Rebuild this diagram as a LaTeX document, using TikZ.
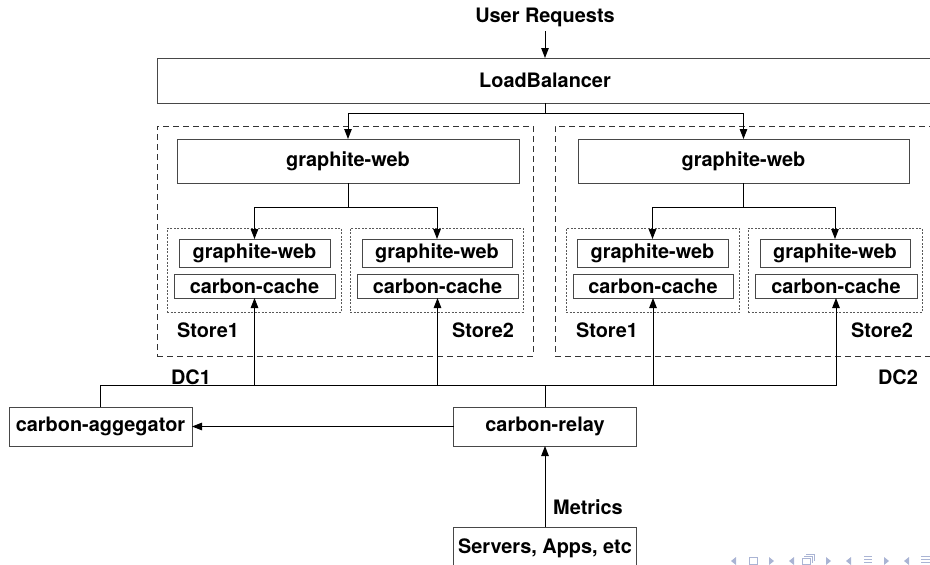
\documentclass[tikz,border=0pt]{standalone}
\usepackage{fontspec}
\setmainfont{TeX Gyre Heros}
\usetikzlibrary{arrows.meta}
\definecolor{navblue}{RGB}{170,180,212}
\begin{document}
\begin{tikzpicture}[x=1pt,y=-1pt,
  every node/.style={font=\fontsize{19.9}{22}\selectfont\bfseries, inner sep=0pt, outer sep=0pt},
  box/.style={draw=black!72, line width=0.9pt},
  dcbox/.style={draw=black!80, line width=0.9pt, dash pattern=on 6pt off 4pt},
  storebox/.style={draw=black!65, line width=0.7pt, dash pattern=on 2pt off 1.5pt},
  conn/.style={line width=1pt, black},
  arr/.style={conn, -{Triangle[length=10pt,width=7.5pt]}},
  lbl/.style={},
  nav/.style={fill=navblue, draw=none}
]
\useasboundingbox (0,0) rectangle (930,565);

% top
\node[lbl] (ureq) at (545,17) {User Requests};
\node[box, minimum width=776, minimum height=45] (lb) at (545,80.5) {LoadBalancer};

% DC1
\node[dcbox, minimum width=376, minimum height=230] (dc1) at (345,241) {};
\node[box, minimum width=342, minimum height=44] (gw1) at (348,161) {graphite-web};
\node[storebox, minimum width=174, minimum height=84] (s11) at (254,270) {};
\node[box, minimum width=151, minimum height=28] (s11gw) at (254.5,253) {graphite-web};
\node[box, minimum width=161, minimum height=24] (s11cc) at (254.5,286) {carbon-cache};
\node[storebox, minimum width=173, minimum height=84] (s12) at (436.5,270) {};
\node[box, minimum width=150, minimum height=28] (s12gw) at (437,253) {graphite-web};
\node[box, minimum width=161, minimum height=24] (s12cc) at (437.5,286) {carbon-cache};
\node[lbl] (st11) at (208,330) {Store1};
\node[lbl] (st12) at (483,330) {Store2};
\node[lbl] (dc1l) at (191,377) {DC1};

% DC2
\node[dcbox, minimum width=380, minimum height=230] (dc2) at (745,241) {};
\node[box, minimum width=331, minimum height=44] (gw2) at (743.5,161) {graphite-web};
\node[storebox, minimum width=173, minimum height=84] (s21) at (652.5,270) {};
\node[box, minimum width=151, minimum height=28] (s21gw) at (652.5,253) {graphite-web};
\node[box, minimum width=160, minimum height=24] (s21cc) at (653,286) {carbon-cache};
\node[storebox, minimum width=174, minimum height=84] (s22) at (835,270) {};
\node[box, minimum width=150, minimum height=28] (s22gw) at (835,253) {graphite-web};
\node[box, minimum width=162, minimum height=24] (s22cc) at (836,286) {carbon-cache};
\node[lbl] (st21) at (607,330) {Store1};
\node[lbl] (st22) at (882,330) {Store2};
\node[lbl] (dc2l) at (898,377) {DC2};

% bottom
\node[box, minimum width=183, minimum height=39] (agg) at (100.5,426.5) {carbon-aggegator};
\node[box, minimum width=183, minimum height=39] (relay) at (545,426.5) {carbon-relay};
\node[box, minimum width=183, minimum height=42] (srv) at (545,548) {Servers, Apps, etc};
\node[lbl] (metrics) at (588,507) {Metrics};

% connectors top
\draw[arr] (ureq.south |- 0,31) -- (lb.north);
\coordinate (lbsplit) at (545,113);
\draw[conn] (lb.south) -- (lbsplit);
\draw[arr] (lbsplit) -| (gw1.north);
\draw[arr] (lbsplit) -| (gw2.north);

\coordinate (g1split) at (gw1.south |- 0,207);
\draw[conn] (gw1.south) -- (g1split);
\draw[arr] (g1split) -| (s11gw.north);
\draw[arr] (g1split) -| (s12gw.north);

\coordinate (g2split) at (gw2.south |- 0,207);
\draw[conn] (gw2.south) -- (g2split);
\draw[arr] (g2split) -| (s21gw.north);
\draw[arr] (g2split) -| (s22gw.north);

% bus
\coordinate (bus) at (545,385);
\draw[conn] (relay.north) -- (bus);
\draw[conn] (agg.north) |- (bus);
\draw[arr] (bus) -| (s22cc.south);
\draw[arr] (s11cc.south |- bus) -- (s11cc.south);
\draw[arr] (s12cc.south |- bus) -- (s12cc.south);
\draw[arr] (s21cc.south |- bus) -- (s21cc.south);

\draw[arr] (relay.west) -- (agg.east);
\draw[arr] (srv.north) -- (relay.south);

% navigation symbols
\fill[nav] (736,557) -- (736,565) -- (731,561) -- cycle;
\draw[navblue, line width=0.8pt] (749,557.5) rectangle (757,564.5);
\fill[nav] (769,557) -- (769,565) -- (774,561) -- cycle;
\fill[nav] (794,557) -- (794,565) -- (789,561) -- cycle;
\draw[navblue, line width=0.8pt] (802,558) rectangle (810,564.5);
\draw[navblue, line width=0.8pt] (804,556) -- (812,556) -- (812,562.5);
\draw[navblue, line width=0.8pt] (806,554) -- (814,554) -- (814,560.5);
\fill[nav] (826,557) -- (826,565) -- (831,561) -- cycle;
\fill[nav] (851,557) -- (851,565) -- (846,561) -- cycle;
\foreach \yy in {556,559,562,565} \draw[navblue, line width=0.9pt] (864,\yy) -- (872,\yy);
\fill[nav] (884,557) -- (884,565) -- (889,561) -- cycle;
\fill[nav] (909,557) -- (909,565) -- (904,561) -- cycle;
\foreach \yy in {556,559,562,565} \draw[navblue, line width=0.9pt] (921,\yy) -- (930,\yy);
\end{tikzpicture}
\end{document}
